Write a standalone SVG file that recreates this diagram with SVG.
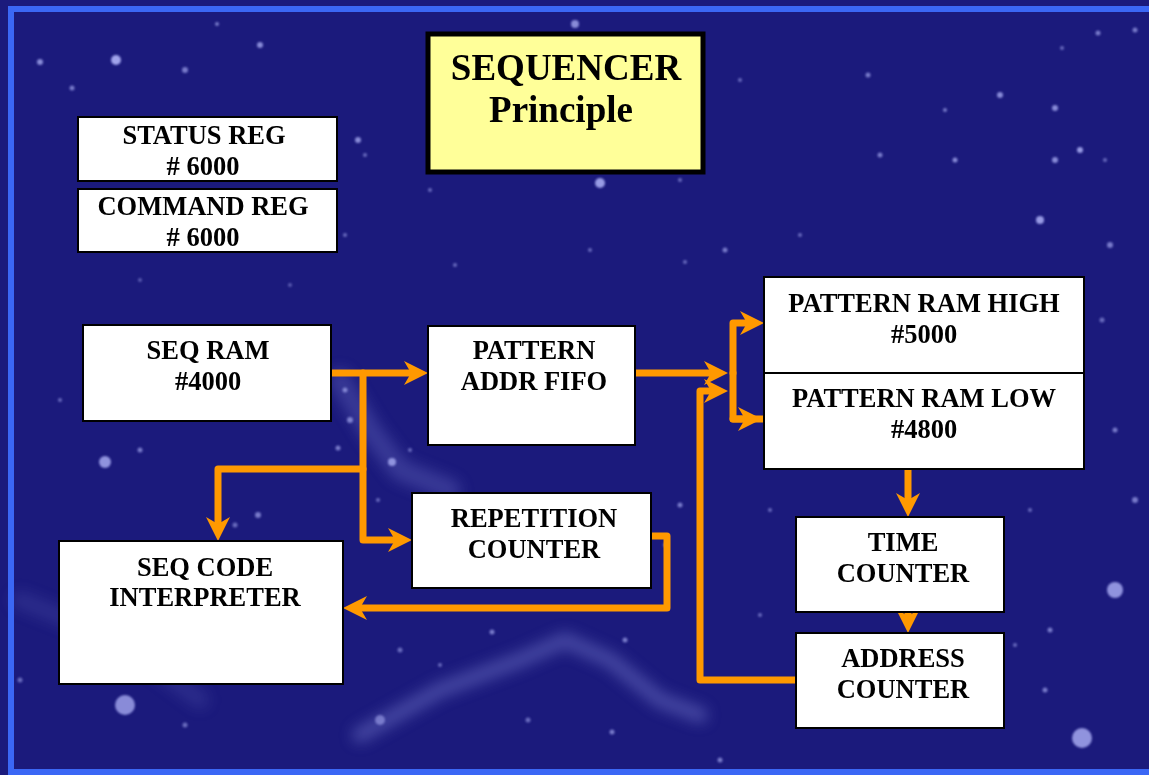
<svg xmlns="http://www.w3.org/2000/svg" width="1149" height="775" viewBox="0 0 1149 775">
  <style>
    .box { fill: #ffffff; stroke: #000000; stroke-width: 2; }
    .title { fill: #ffff99; stroke: #000000; stroke-width: 5; }
    .lbl { font-family: "Liberation Serif", "Times New Roman", serif; font-weight: bold; font-size: 26.5px; fill: #000000; text-anchor: middle; }
    .ttl { font-family: "Liberation Serif", "Times New Roman", serif; font-weight: bold; font-size: 37px; fill: #000000; text-anchor: middle; }
    .wire { fill: none; stroke: #ff9900; stroke-width: 7; stroke-linejoin: round; stroke-linecap: round; }
    .star { fill: #b8bcff; }
  </style>
  <defs>
    <marker id="ah" markerUnits="userSpaceOnUse" orient="auto" overflow="visible" markerWidth="1" markerHeight="1" refX="0" refY="0">
      <path d="M10,0 L-14,-12 L-7,0 L-14,12 Z" fill="#ff9900"/>
    </marker>
    <filter id="soft" x="-50%" y="-50%" width="200%" height="200%">
      <feGaussianBlur stdDeviation="1.3"/>
    </filter>
    <filter id="haze" x="-20%" y="-20%" width="140%" height="140%">
      <feGaussianBlur stdDeviation="7"/>
    </filter>
  </defs>

  <!-- night sky backdrop -->
  <rect x="0" y="0" width="1149" height="775" fill="#1b1a7c"/>
  <g filter="url(#haze)" fill="none" stroke="#8f95e6" stroke-linecap="round" stroke-linejoin="round">
    <path d="M360,735 L440,690 L520,660 L565,640 L610,660 L660,700 L700,715" stroke-width="16" opacity="0.35"/>
    <path d="M340,380 L370,430 L400,470 L450,490" stroke-width="22" opacity="0.25"/>
    <path d="M20,600 L120,640 L200,700" stroke-width="18" opacity="0.15"/>
  </g>
  <g filter="url(#soft)">
    <circle class="star" cx="40" cy="62" r="3" opacity="0.7"/>
    <circle class="star" cx="116" cy="60" r="5" opacity="0.85"/>
    <circle class="star" cx="185" cy="70" r="3" opacity="0.6"/>
    <circle class="star" cx="72" cy="88" r="2.5" opacity="0.6"/>
    <circle class="star" cx="260" cy="45" r="3" opacity="0.7"/>
    <circle class="star" cx="217" cy="24" r="2" opacity="0.6"/>
    <circle class="star" cx="358" cy="140" r="3" opacity="0.7"/>
    <circle class="star" cx="365" cy="155" r="2" opacity="0.5"/>
    <circle class="star" cx="600" cy="183" r="5" opacity="0.8"/>
    <circle class="star" cx="575" cy="24" r="4" opacity="0.7"/>
    <circle class="star" cx="680" cy="180" r="2" opacity="0.5"/>
    <circle class="star" cx="740" cy="80" r="2" opacity="0.5"/>
    <circle class="star" cx="868" cy="75" r="2.5" opacity="0.6"/>
    <circle class="star" cx="945" cy="110" r="2" opacity="0.6"/>
    <circle class="star" cx="1000" cy="95" r="3" opacity="0.7"/>
    <circle class="star" cx="1055" cy="108" r="3" opacity="0.7"/>
    <circle class="star" cx="1080" cy="150" r="3" opacity="0.8"/>
    <circle class="star" cx="1105" cy="160" r="2" opacity="0.5"/>
    <circle class="star" cx="955" cy="160" r="2.5" opacity="0.7"/>
    <circle class="star" cx="1055" cy="160" r="3" opacity="0.7"/>
    <circle class="star" cx="1040" cy="220" r="4" opacity="0.8"/>
    <circle class="star" cx="1110" cy="245" r="3" opacity="0.6"/>
    <circle class="star" cx="1135" cy="30" r="2.5" opacity="0.6"/>
    <circle class="star" cx="1098" cy="33" r="2.5" opacity="0.6"/>
    <circle class="star" cx="1062" cy="48" r="2" opacity="0.5"/>
    <circle class="star" cx="880" cy="155" r="2.5" opacity="0.6"/>
    <circle class="star" cx="800" cy="235" r="2" opacity="0.5"/>
    <circle class="star" cx="725" cy="250" r="2.5" opacity="0.6"/>
    <circle class="star" cx="685" cy="262" r="2" opacity="0.5"/>
    <circle class="star" cx="590" cy="250" r="2" opacity="0.5"/>
    <circle class="star" cx="430" cy="190" r="2" opacity="0.5"/>
    <circle class="star" cx="455" cy="265" r="2" opacity="0.5"/>
    <circle class="star" cx="345" cy="235" r="2" opacity="0.5"/>
    <circle class="star" cx="290" cy="285" r="2" opacity="0.4"/>
    <circle class="star" cx="140" cy="280" r="2" opacity="0.4"/>
    <circle class="star" cx="105" cy="462" r="6" opacity="0.75"/>
    <circle class="star" cx="140" cy="450" r="2.5" opacity="0.6"/>
    <circle class="star" cx="60" cy="400" r="2" opacity="0.5"/>
    <circle class="star" cx="345" cy="390" r="2.5" opacity="0.6"/>
    <circle class="star" cx="350" cy="420" r="3" opacity="0.6"/>
    <circle class="star" cx="338" cy="448" r="2.5" opacity="0.6"/>
    <circle class="star" cx="392" cy="462" r="4" opacity="0.7"/>
    <circle class="star" cx="410" cy="450" r="2" opacity="0.5"/>
    <circle class="star" cx="378" cy="500" r="2" opacity="0.5"/>
    <circle class="star" cx="258" cy="515" r="3" opacity="0.6"/>
    <circle class="star" cx="235" cy="525" r="2.5" opacity="0.5"/>
    <circle class="star" cx="680" cy="505" r="2.5" opacity="0.6"/>
    <circle class="star" cx="665" cy="545" r="2" opacity="0.5"/>
    <circle class="star" cx="770" cy="510" r="2" opacity="0.5"/>
    <circle class="star" cx="1030" cy="510" r="2" opacity="0.5"/>
    <circle class="star" cx="1135" cy="500" r="3" opacity="0.6"/>
    <circle class="star" cx="1115" cy="430" r="2.5" opacity="0.6"/>
    <circle class="star" cx="1102" cy="320" r="2.5" opacity="0.5"/>
    <circle class="star" cx="1115" cy="590" r="8" opacity="0.75"/>
    <circle class="star" cx="1050" cy="630" r="2.5" opacity="0.6"/>
    <circle class="star" cx="1045" cy="690" r="2.5" opacity="0.6"/>
    <circle class="star" cx="1082" cy="738" r="10" opacity="0.75"/>
    <circle class="star" cx="1015" cy="645" r="2" opacity="0.5"/>
    <circle class="star" cx="125" cy="705" r="10" opacity="0.7"/>
    <circle class="star" cx="185" cy="725" r="2.5" opacity="0.5"/>
    <circle class="star" cx="380" cy="720" r="5" opacity="0.5"/>
    <circle class="star" cx="400" cy="650" r="2.5" opacity="0.5"/>
    <circle class="star" cx="440" cy="665" r="2" opacity="0.5"/>
    <circle class="star" cx="492" cy="632" r="2.5" opacity="0.6"/>
    <circle class="star" cx="625" cy="640" r="2.5" opacity="0.6"/>
    <circle class="star" cx="612" cy="732" r="2.5" opacity="0.6"/>
    <circle class="star" cx="528" cy="720" r="2.5" opacity="0.5"/>
    <circle class="star" cx="720" cy="760" r="2.5" opacity="0.6"/>
    <circle class="star" cx="760" cy="615" r="2" opacity="0.5"/>
    <circle class="star" cx="230" cy="650" r="2" opacity="0.4"/>
    <circle class="star" cx="20" cy="680" r="2.5" opacity="0.5"/>
  </g>

  <!-- frame -->
  <rect x="11" y="9" width="1150" height="763" fill="none" stroke="#3b67f5" stroke-width="6"/>

  <!-- connectors -->
  <g id="connectors">
    <path class="wire" d="M331,373 H418" marker-end="url(#ah)"/>
    <path class="wire" d="M363,373 V540 H402" marker-end="url(#ah)"/>
    <path class="wire" d="M363,469 H218 V531" marker-end="url(#ah)"/>
    <path class="wire" d="M651,536 H667 V608 H353" marker-end="url(#ah)"/>
    <path class="wire" d="M635,373 H718" marker-end="url(#ah)"/>
    <path class="wire" d="M733,373 V323 H754" marker-end="url(#ah)"/>
    <path class="wire" d="M733,373 V419 H763"/>
    <path class="wire" d="M733,419 H752" marker-end="url(#ah)"/>
    <path class="wire" d="M796,680 H700 V391 H718" marker-end="url(#ah)"/>
    <path class="wire" d="M908,469 V507" marker-end="url(#ah)"/>
    <path class="wire" d="M908,612 V623" marker-end="url(#ah)"/>
  </g>

  <!-- nodes -->
  <g id="title">
    <rect class="title" x="428" y="34" width="275" height="138"/>
    <text class="ttl" x="566" y="80">SEQUENCER</text>
    <text class="ttl" x="561" y="122">Principle</text>
  </g>
  <g id="status-reg">
    <rect class="box" x="78" y="117" width="259" height="64"/>
    <text class="lbl" x="204" y="144">STATUS REG</text>
    <text class="lbl" x="203" y="175"># 6000</text>
  </g>
  <g id="command-reg">
    <rect class="box" x="78" y="189" width="259" height="63"/>
    <text class="lbl" x="203" y="215">COMMAND REG</text>
    <text class="lbl" x="203" y="246"># 6000</text>
  </g>
  <g id="seq-ram">
    <rect class="box" x="83" y="325" width="248" height="96"/>
    <text class="lbl" x="208" y="359">SEQ RAM</text>
    <text class="lbl" x="208" y="390">#4000</text>
  </g>
  <g id="pattern-addr-fifo">
    <rect class="box" x="428" y="326" width="207" height="119"/>
    <text class="lbl" x="534" y="359">PATTERN</text>
    <text class="lbl" x="534" y="390">ADDR FIFO</text>
  </g>
  <g id="repetition-counter">
    <rect class="box" x="412" y="493" width="239" height="95"/>
    <text class="lbl" x="534" y="527">REPETITION</text>
    <text class="lbl" x="534" y="558">COUNTER</text>
  </g>
  <g id="seq-code-interpreter">
    <rect class="box" x="59" y="541" width="284" height="143"/>
    <text class="lbl" x="205" y="576">SEQ CODE</text>
    <text class="lbl" x="205" y="606">INTERPRETER</text>
  </g>
  <g id="pattern-ram-high">
    <rect class="box" x="764" y="277" width="320" height="96"/>
    <text class="lbl" x="924" y="312">PATTERN RAM HIGH</text>
    <text class="lbl" x="924" y="343">#5000</text>
  </g>
  <g id="pattern-ram-low">
    <rect class="box" x="764" y="373" width="320" height="96"/>
    <text class="lbl" x="924" y="407">PATTERN RAM LOW</text>
    <text class="lbl" x="924" y="438">#4800</text>
  </g>
  <g id="time-counter">
    <rect class="box" x="796" y="517" width="208" height="95"/>
    <text class="lbl" x="903" y="551">TIME</text>
    <text class="lbl" x="903" y="582">COUNTER</text>
  </g>
  <g id="address-counter">
    <rect class="box" x="796" y="633" width="208" height="95"/>
    <text class="lbl" x="903" y="667">ADDRESS</text>
    <text class="lbl" x="903" y="698">COUNTER</text>
  </g>
</svg>
